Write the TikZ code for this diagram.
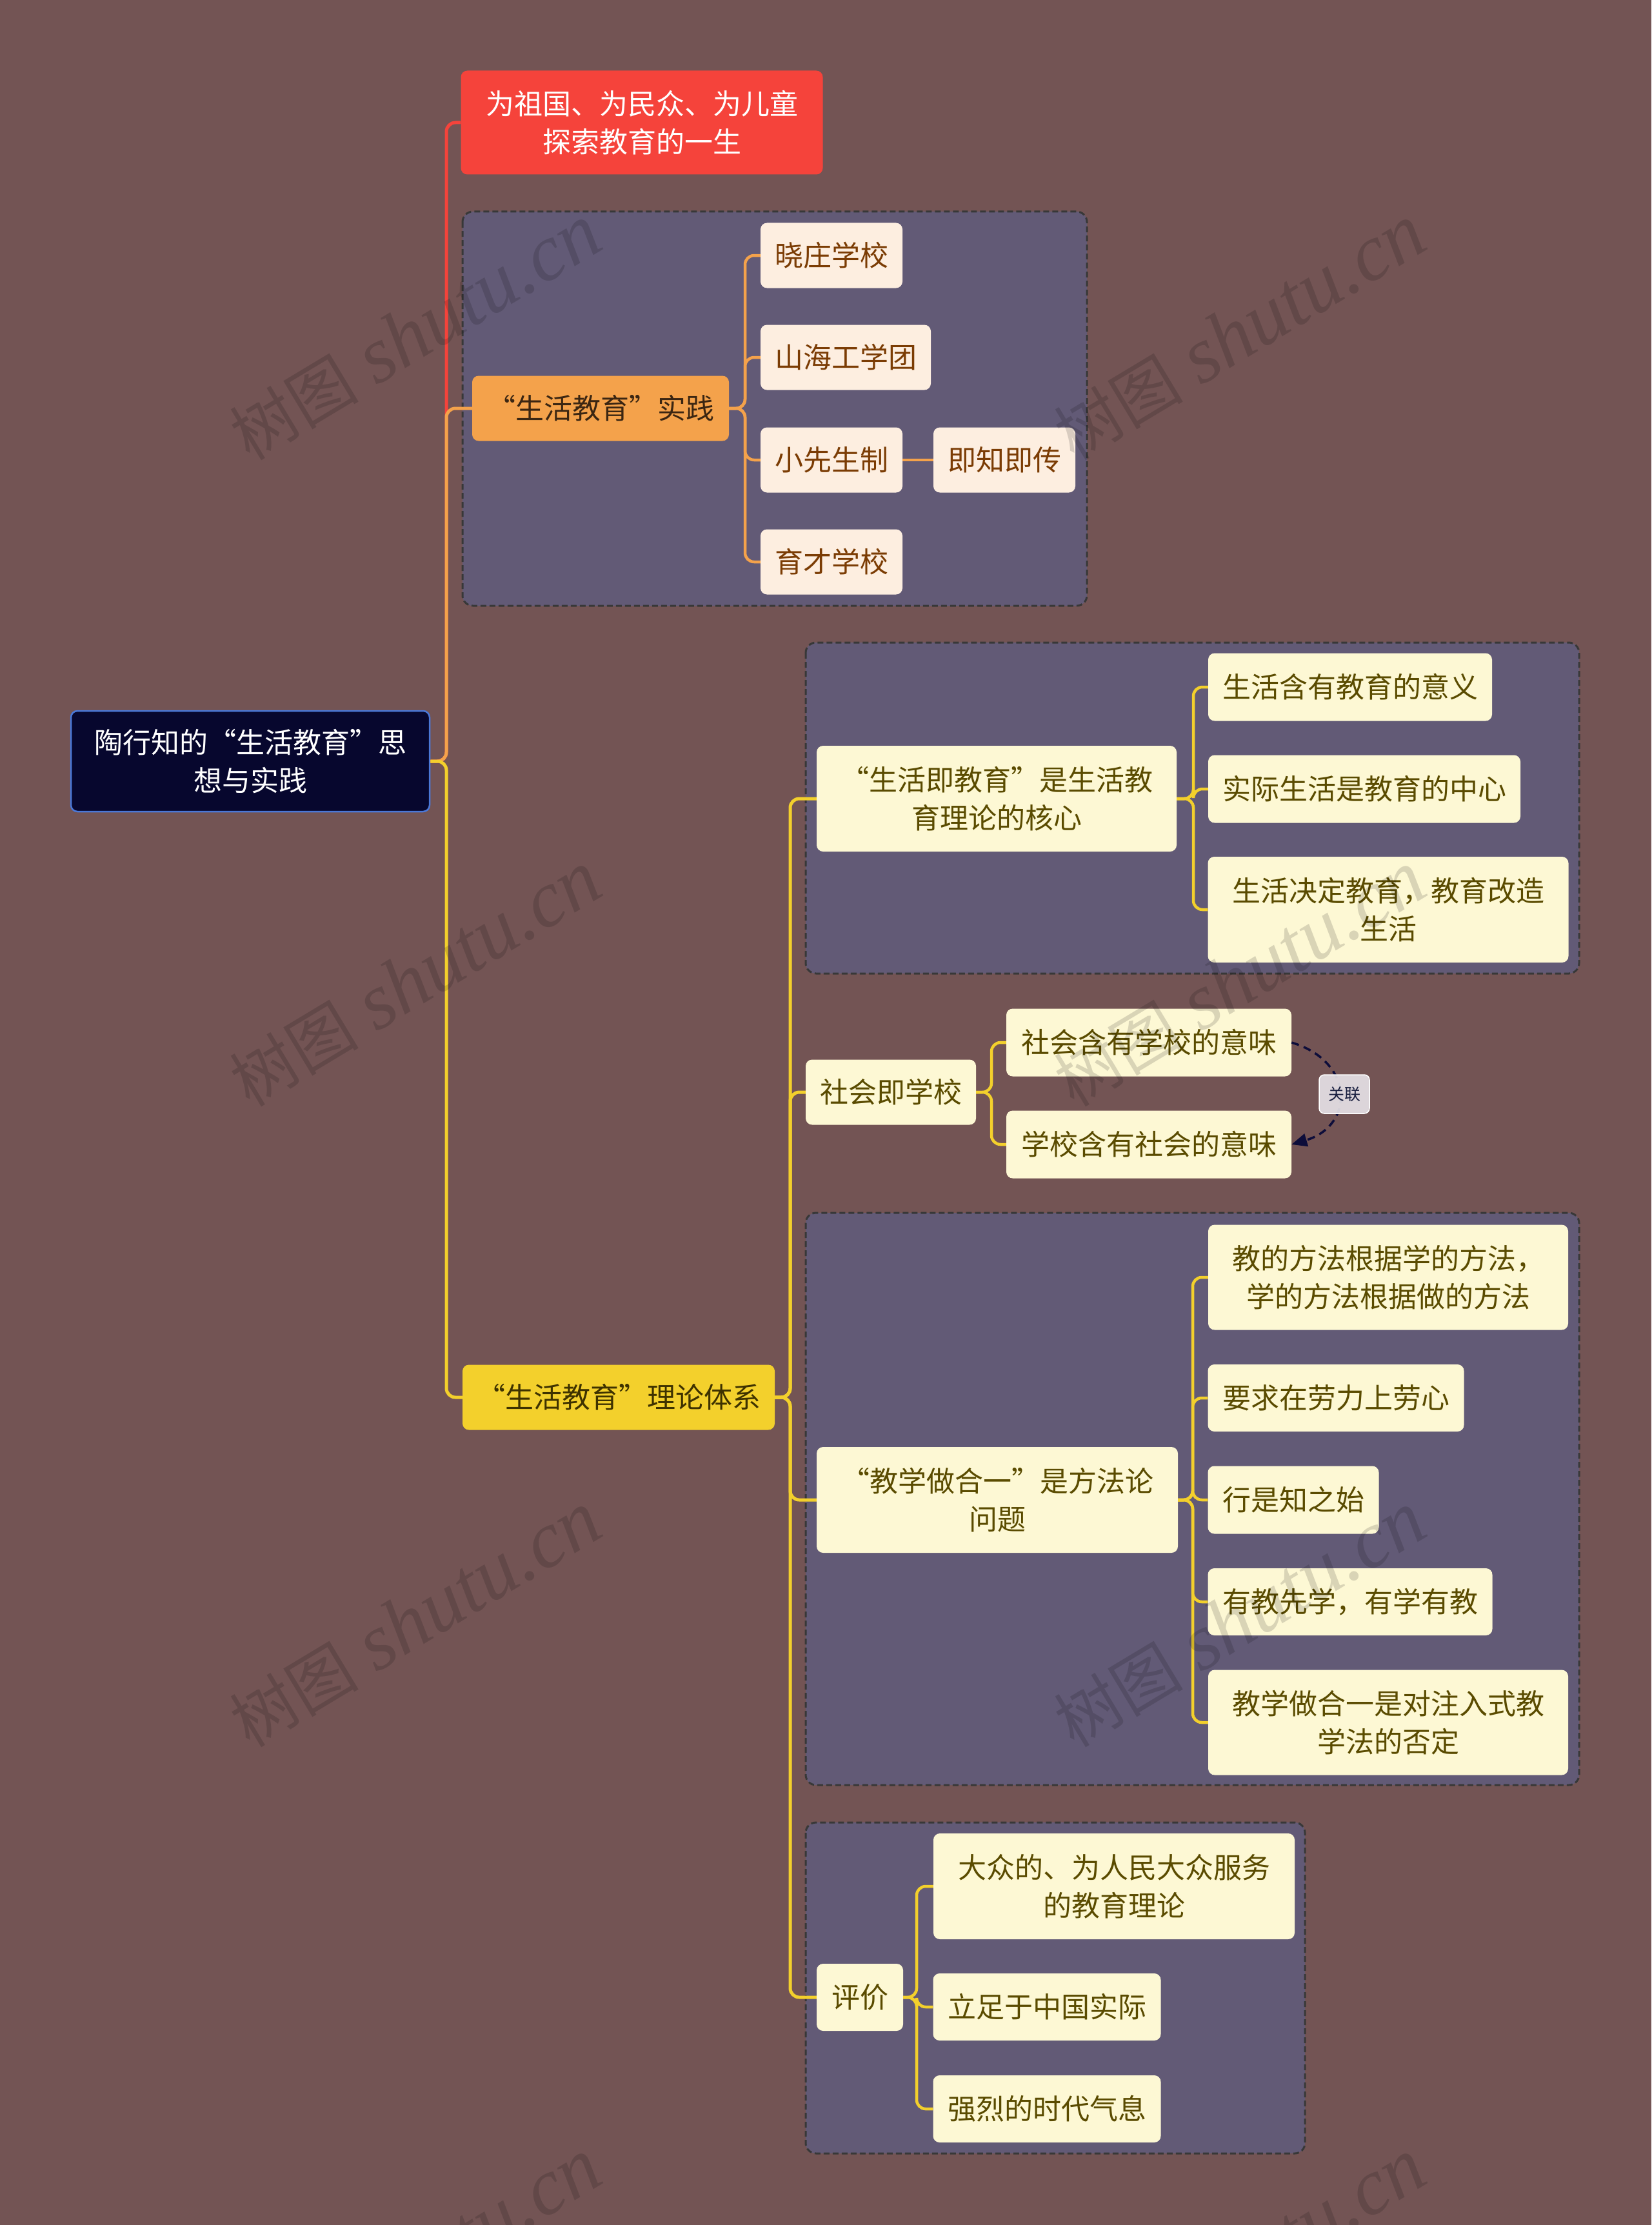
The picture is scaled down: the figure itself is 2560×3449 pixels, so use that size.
\documentclass[tikz,border=0pt]{standalone}
\usepackage{fontspec}
\setmainfont{Noto Sans CJK SC}
\newfontfamily\wmfont{Liberation Serif}
\usetikzlibrary{arrows.meta}
\definecolor{bg}{HTML}{735454}
\definecolor{grpfill}{HTML}{625A76}
\definecolor{grpline}{HTML}{383838}
\definecolor{rootfill}{HTML}{07072E}
\definecolor{rootline}{HTML}{4A78D8}
\definecolor{redc}{HTML}{F5433B}
\definecolor{orangec}{HTML}{F4A24B}
\definecolor{yellowc}{HTML}{F3D02C}
\definecolor{peachfill}{HTML}{FDEEE0}
\definecolor{peachtext}{HTML}{7B3C04}
\definecolor{creamfill}{HTML}{FDF8D4}
\definecolor{creamtext}{HTML}{5A4B00}
\definecolor{orangetext}{HTML}{3B2612}
\definecolor{yellowtext}{HTML}{3E3200}
\definecolor{relc}{HTML}{0D0D3A}
\definecolor{glfill}{HTML}{E6E1E6}
\definecolor{gltext}{HTML}{1A2040}
\begin{document}
\begin{tikzpicture}[x=1pt,y=-1pt,
  nd/.style={rounded corners=10pt, inner sep=0pt, align=center, font=\fontsize{44}{59}\selectfont},
  peach/.style={nd, fill=peachfill, text=peachtext},
  cream/.style={nd, fill=creamfill, text=creamtext},
  grp/.style={draw=grpline, fill=grpfill, dash pattern=on 9pt off 5pt, line width=3pt, rounded corners=16pt},
  conn/.style={line width=5pt, rounded corners=14pt},
  rel/.style={draw=relc, line width=3.5pt, dash pattern=on 12pt off 8pt, -{Triangle[length=24pt,width=20pt]}},
  wm/.style={text=black, text opacity=0.14, rotate=31, inner sep=0pt}
]
\fill[bg] (0,0) rectangle (2560,3449);
\useasboundingbox (0,0) rectangle (2560,3449);

% group boxes
\draw[grp] (717,328) rectangle (1685,939);
\draw[grp] (1249,996) rectangle (2448,1509);
\draw[grp] (1249,1880) rectangle (2448,2767);
\draw[grp] (1249,2825) rectangle (2023,3338);

% trunk coordinates
\coordinate (tx) at (692,0);
\coordinate (ox) at (1155,0);
\coordinate (ty) at (1225,0);
\coordinate (ax) at (1850,0);
\coordinate (bx) at (1537,0);
\coordinate (cx) at (1849,0);
\coordinate (dx) at (1421,0);

% nodes
\node[nd, fill=rootfill, draw=rootline, line width=2.5pt, text=white, minimum width=556pt, minimum height=156pt] (root) at (388,1180) {陶行知的“生活教育”思\\想与实践};
\node[nd, fill=redc, text=white, minimum width=561pt, minimum height=161pt] (red) at (995,190) {为祖国、为民众、为儿童\\探索教育的一生};
\node[nd, fill=orangec, text=orangetext, minimum width=398pt, minimum height=101pt] (orange) at (931,633) {“生活教育”实践};
\node[peach, minimum width=220pt, minimum height=101pt] (xz) at (1289,396) {晓庄学校};
\node[peach, minimum width=264pt, minimum height=101pt] (sh) at (1311,554) {山海工学团};
\node[peach, minimum width=220pt, minimum height=101pt] (xx) at (1289,713) {小先生制};
\node[peach, minimum width=220pt, minimum height=101pt] (jz) at (1557,713) {即知即传};
\node[peach, minimum width=220pt, minimum height=101pt] (yc) at (1289,871) {育才学校};

\node[nd, fill=yellowc, text=yellowtext, minimum width=484pt, minimum height=101pt] (yellow) at (959,2166) {“生活教育”理论体系};

\node[cream, minimum width=558pt, minimum height=164pt] (shjy) at (1545,1238) {“生活即教育”是生活教\\育理论的核心};
\node[cream, minimum width=440pt, minimum height=105pt] (c1) at (2093,1065) {生活含有教育的意义};
\node[cream, minimum width=484pt, minimum height=105pt] (c2) at (2115,1223) {实际生活是教育的中心};
\node[cream, minimum width=559pt, minimum height=164pt] (c3) at (2152,1410) {生活决定教育，教育改造\\生活};

\node[cream, minimum width=264pt, minimum height=101pt] (shxx) at (1381,1693) {社会即学校};
\node[cream, minimum width=442pt, minimum height=105pt] (s1) at (1781,1616) {社会含有学校的意味};
\node[cream, minimum width=442pt, minimum height=105pt] (s2) at (1781,1774) {学校含有社会的意味};

\node[cream, minimum width=560pt, minimum height=164pt] (jx) at (1546,2325) {“教学做合一”是方法论\\问题};
\node[cream, minimum width=558pt, minimum height=163pt] (j1) at (2152,1980) {教的方法根据学的方法，\\学的方法根据做的方法};
\node[cream, minimum width=397pt, minimum height=104pt] (j2) at (2071,2167) {要求在劳力上劳心};
\node[cream, minimum width=265pt, minimum height=105pt] (j3) at (2005,2325) {行是知之始};
\node[cream, minimum width=441pt, minimum height=104pt] (j4) at (2093,2483) {有教先学，有学有教};
\node[cream, minimum width=558pt, minimum height=163pt] (j5) at (2152,2670) {教学做合一是对注入式教\\学法的否定};

\node[cream, minimum width=134pt, minimum height=104pt] (pj) at (1333,3096) {评价};
\node[cream, minimum width=560pt, minimum height=164pt] (p1) at (1727,2924) {大众的、为人民大众服务\\的教育理论};
\node[cream, minimum width=353pt, minimum height=104pt] (p2) at (1623,3111) {立足于中国实际};
\node[cream, minimum width=353pt, minimum height=104pt] (p3) at (1623,3269) {强烈的时代气息};

% main connectors
\draw[conn, redc] (root.east) -- (root.east -| tx) |- (red.west);
\draw[conn, orangec] (root.east) -- (root.east -| tx) |- (orange.west);
\draw[conn, yellowc] (root.east) -- (root.east -| tx) |- (yellow.west);

% orange branch
\foreach \c in {xz,sh,xx,yc}
  \draw[conn, orangec, line width=4.5pt] (orange.east) -- (orange.east -| ox) |- (\c.west);
\draw[conn, orangec, line width=4.5pt] (xx.east) -- (jz.west);

% yellow branch
\foreach \c in {shjy,shxx,jx,pj}
  \draw[conn, yellowc] (yellow.east) -- (yellow.east -| ty) |- (\c.west);
\foreach \c in {c1,c2,c3}
  \draw[conn, yellowc, line width=4.5pt] (shjy.east) -- (shjy.east -| ax) |- (\c.west);
\foreach \c in {s1,s2}
  \draw[conn, yellowc, line width=4.5pt] (shxx.east) -- (shxx.east -| bx) |- (\c.west);
\foreach \c in {j1,j2,j3,j4,j5}
  \draw[conn, yellowc, line width=4.5pt] (jx.east) -- (jx.east -| cx) |- (\c.west);
\foreach \c in {p1,p2,p3}
  \draw[conn, yellowc, line width=4.5pt] (pj.east) -- (pj.east -| dx) |- (\c.west);

% relation
\draw[rel] (s1.east) .. controls (2100,1645) and (2100,1745) .. (s2.east);
\node[fill=glfill, fill opacity=0.92, text opacity=1, draw=white, line width=1.5pt, rounded corners=8pt, inner sep=0pt, minimum width=78pt, minimum height=60pt, text=gltext, font=\fontsize{25}{25}\selectfont] (gl) at (2084,1696) {关联};

% watermarks
\begin{scope}
\clip (0,0) rectangle (2560,3449);
\foreach \wx in {644,1922}
  \foreach \wy in {516,1518,2511,3514}
    \node[wm] at (\wx,\wy) {{\fontsize{100}{100}\selectfont 树图}\hspace{28pt}{\wmfont\itshape\fontsize{124}{124}\selectfont shutu.cn}};
\end{scope}
\end{tikzpicture}
\end{document}
